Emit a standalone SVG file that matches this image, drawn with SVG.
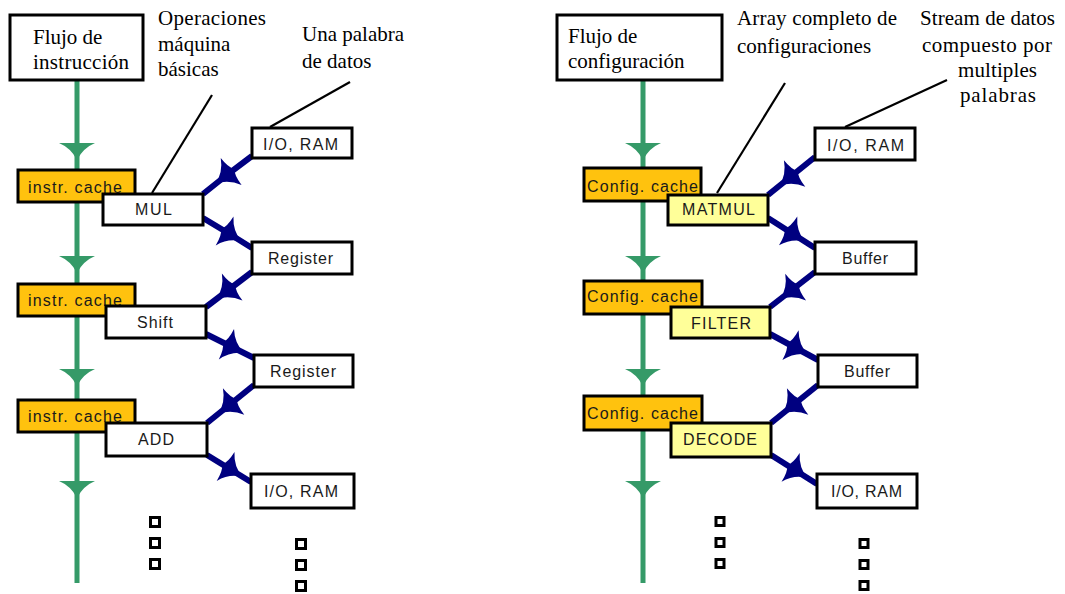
<svg xmlns="http://www.w3.org/2000/svg" xmlns:xlink="http://www.w3.org/1999/xlink" width="1065" height="594" viewBox="0 0 1065 594">
  <defs>
    <style>
      .box { fill: #ffffff; stroke: #000000; stroke-width: 3; }
      .cache { fill: #FFC20E; stroke: #000000; stroke-width: 3; }
      .op { fill: #FFFF99; stroke: #000000; stroke-width: 3; }
      .lbl { font-family: "Liberation Sans", Arial, sans-serif; font-size: 16px; fill: #1a1a1a; text-anchor: middle; }
      .clbl { font-family: "Liberation Sans", Arial, sans-serif; font-size: 16px; fill: #1a1a1a; }
      .note { font-family: "Liberation Serif", "Times New Roman", serif; font-size: 21px; fill: #000000; }
      .flow { stroke: #359A68; stroke-width: 5; fill: none; }
      .data { stroke: #000080; stroke-width: 6; fill: none; marker-mid: url(#star); }
      .ptr { stroke: #000000; stroke-width: 2.2; fill: none; }
      .dot { fill: #ffffff; stroke: #000000; stroke-width: 3; }
    </style>
    <!-- barbed navy arrowhead placed at the middle of each data link -->
    <marker id="star" markerUnits="userSpaceOnUse" viewBox="-20 -20 40 40" markerWidth="40" markerHeight="40" refX="0" refY="0" orient="auto" overflow="visible">
      <path d="M16,0 Q3,-4 -4,-17 Q-4,-5 -8,0 Q-4,5 -4,17 Q3,4 16,0 Z" fill="#000080"/>
    </marker>
    <!-- green downward arrowhead on the control flow line -->
    <path id="ghead" d="M-18,0 L18,0 Q6,5 0,17 Q-6,5 -18,0 Z" fill="#359A68"/>
  </defs>

  <rect width="1065" height="594" fill="#ffffff"/>

  <!-- ===== connectors ===== -->
  <g id="connectors">
    <!-- control flow lines -->
    <line class="flow" x1="77" y1="80" x2="77" y2="583"/>
    <use xlink:href="#ghead" x="77" y="143"/>
    <use xlink:href="#ghead" x="77" y="256"/>
    <use xlink:href="#ghead" x="77" y="369"/>
    <use xlink:href="#ghead" x="77" y="481"/>

    <line class="flow" x1="643" y1="80" x2="643" y2="583"/>
    <use xlink:href="#ghead" x="643" y="143"/>
    <use xlink:href="#ghead" x="643" y="256"/>
    <use xlink:href="#ghead" x="643" y="369"/>
    <use xlink:href="#ghead" x="643" y="481"/>

    <!-- data links, left -->
    <path class="data" d="M252,156 L228,174 L203,194"/>
    <path class="data" d="M203,218 L228,233 L252,248"/>
    <path class="data" d="M252,272 L229,289.5 L206,307"/>
    <path class="data" d="M206,334 L230,346 L254,358"/>
    <path class="data" d="M254,385 L230.5,404 L207,423"/>
    <path class="data" d="M207,455 L229,468.5 L251,482"/>

    <!-- data links, right -->
    <path class="data" d="M815,157 L791.5,176 L768,195"/>
    <path class="data" d="M768,218 L791.5,233 L815,248"/>
    <path class="data" d="M815,272 L792.5,289.5 L770,307"/>
    <path class="data" d="M770,334 L794,347 L818,360"/>
    <path class="data" d="M818,385 L794.5,404 L771,423"/>
    <path class="data" d="M771,455 L794,469.5 L817,484"/>

    <!-- annotation pointers -->
    <line class="ptr" x1="212" y1="95" x2="152" y2="193"/>
    <line class="ptr" x1="350" y1="82" x2="270" y2="127"/>
    <line class="ptr" x1="785" y1="83" x2="717" y2="193"/>
    <line class="ptr" x1="947" y1="80" x2="845" y2="127"/>
  </g>

  <!-- ===== left panel: instruction flow ===== -->
  <g id="flujo-instruccion">
    <rect class="box" x="10" y="15" width="133" height="65"/>
    <text class="note" x="33" y="44">Flujo de</text>
    <text class="note" x="33" y="69" textLength="96">instrucción</text>
  </g>
  <g id="nota-operaciones">
    <text class="note" x="158" y="25" textLength="108">Operaciones</text>
    <text class="note" x="158" y="51">máquina</text>
    <text class="note" x="158" y="76">básicas</text>
  </g>
  <g id="nota-palabra">
    <text class="note" x="302" y="41">Una palabra</text>
    <text class="note" x="302" y="68">de datos</text>
  </g>

  <g id="cache-1">
    <rect class="cache" x="18" y="170" width="117" height="32"/>
    <text class="clbl" x="28" y="193" textLength="94">instr. cache</text>
  </g>
  <g id="cache-2">
    <rect class="cache" x="18" y="284" width="117" height="32"/>
    <text class="clbl" x="28" y="306" textLength="94">instr. cache</text>
  </g>
  <g id="cache-3">
    <rect class="cache" x="18" y="400" width="117" height="32"/>
    <text class="clbl" x="28" y="422" textLength="94">instr. cache</text>
  </g>

  <g id="op-mul">
    <rect class="box" x="103" y="194" width="100" height="31"/>
    <text class="lbl" x="153.5" y="215" textLength="37">MUL</text>
  </g>
  <g id="op-shift">
    <rect class="box" x="106" y="306" width="100" height="32"/>
    <text class="lbl" x="155" y="328" textLength="36">Shift</text>
  </g>
  <g id="op-add">
    <rect class="box" x="106" y="423" width="101" height="33"/>
    <text class="lbl" x="156" y="445" textLength="36">ADD</text>
  </g>

  <g id="io-ram-in-left">
    <rect class="box" x="252" y="128" width="100" height="30"/>
    <text class="lbl" x="300.5" y="150" textLength="75">I/O, RAM</text>
  </g>
  <g id="register-1">
    <rect class="box" x="252" y="242" width="100" height="32"/>
    <text class="lbl" x="300.5" y="264" textLength="65">Register</text>
  </g>
  <g id="register-2">
    <rect class="box" x="254" y="355" width="99" height="32"/>
    <text class="lbl" x="303" y="377" textLength="66">Register</text>
  </g>
  <g id="io-ram-out-left">
    <rect class="box" x="251" y="474" width="103" height="34"/>
    <text class="lbl" x="301" y="497" textLength="74">I/O, RAM</text>
  </g>

  <g id="continua-left">
    <rect class="dot" x="150.5" y="517.5" width="9" height="9"/>
    <rect class="dot" x="150.5" y="538.5" width="9" height="9"/>
    <rect class="dot" x="150.5" y="559.5" width="9" height="9"/>
    <rect class="dot" x="296.5" y="539.5" width="9" height="9"/>
    <rect class="dot" x="296.5" y="560.5" width="9" height="9"/>
    <rect class="dot" x="296.5" y="581.5" width="9" height="9"/>
  </g>

  <!-- ===== right panel: configuration flow ===== -->
  <g id="flujo-configuracion">
    <rect class="box" x="557" y="15" width="165" height="65"/>
    <text class="note" x="568" y="43">Flujo de</text>
    <text class="note" x="568" y="68">configuración</text>
  </g>
  <g id="nota-array">
    <text class="note" x="737" y="25" textLength="160">Array completo de</text>
    <text class="note" x="737" y="53">configuraciones</text>
  </g>
  <g id="nota-stream">
    <text class="note" x="920" y="25" textLength="135">Stream de datos</text>
    <text class="note" x="922" y="52" textLength="130">compuesto por</text>
    <text class="note" x="958" y="77" textLength="79">multiples</text>
    <text class="note" x="960" y="102" textLength="76">palabras</text>
  </g>

  <g id="config-cache-1">
    <rect class="cache" x="584" y="168" width="117" height="33"/>
    <text class="clbl" x="587" y="192" textLength="111">Config. cache</text>
  </g>
  <g id="config-cache-2">
    <rect class="cache" x="584" y="281" width="118" height="33"/>
    <text class="clbl" x="587" y="302" textLength="111">Config. cache</text>
  </g>
  <g id="config-cache-3">
    <rect class="cache" x="584" y="396" width="118" height="34"/>
    <text class="clbl" x="587" y="419" textLength="111">Config. cache</text>
  </g>

  <g id="op-matmul">
    <rect class="op" x="668" y="195" width="100" height="30"/>
    <text class="lbl" x="718.5" y="215" textLength="73">MATMUL</text>
  </g>
  <g id="op-filter">
    <rect class="op" x="671" y="307" width="99" height="31"/>
    <text class="lbl" x="721" y="329" textLength="60">FILTER</text>
  </g>
  <g id="op-decode">
    <rect class="op" x="671" y="423" width="100" height="34"/>
    <text class="lbl" x="720" y="445" textLength="74">DECODE</text>
  </g>

  <g id="io-ram-in-right">
    <rect class="box" x="815" y="128" width="100" height="32"/>
    <text class="lbl" x="865.5" y="151" textLength="77">I/O, RAM</text>
  </g>
  <g id="buffer-1">
    <rect class="box" x="815" y="242" width="101" height="32"/>
    <text class="lbl" x="865" y="264" textLength="46">Buffer</text>
  </g>
  <g id="buffer-2">
    <rect class="box" x="818" y="355" width="99" height="32"/>
    <text class="lbl" x="867" y="377" textLength="46">Buffer</text>
  </g>
  <g id="io-ram-out-right">
    <rect class="box" x="817" y="474" width="100" height="34"/>
    <text class="lbl" x="866.5" y="497" textLength="71">I/O, RAM</text>
  </g>

  <g id="continua-right">
    <rect class="dot" x="716" y="517.5" width="8" height="8"/>
    <rect class="dot" x="716" y="538.5" width="8" height="8"/>
    <rect class="dot" x="716" y="559.5" width="8" height="8"/>
    <rect class="dot" x="860" y="539.5" width="8" height="8"/>
    <rect class="dot" x="860" y="560.5" width="8" height="8"/>
    <rect class="dot" x="860" y="581.5" width="8" height="8"/>
  </g>
</svg>
